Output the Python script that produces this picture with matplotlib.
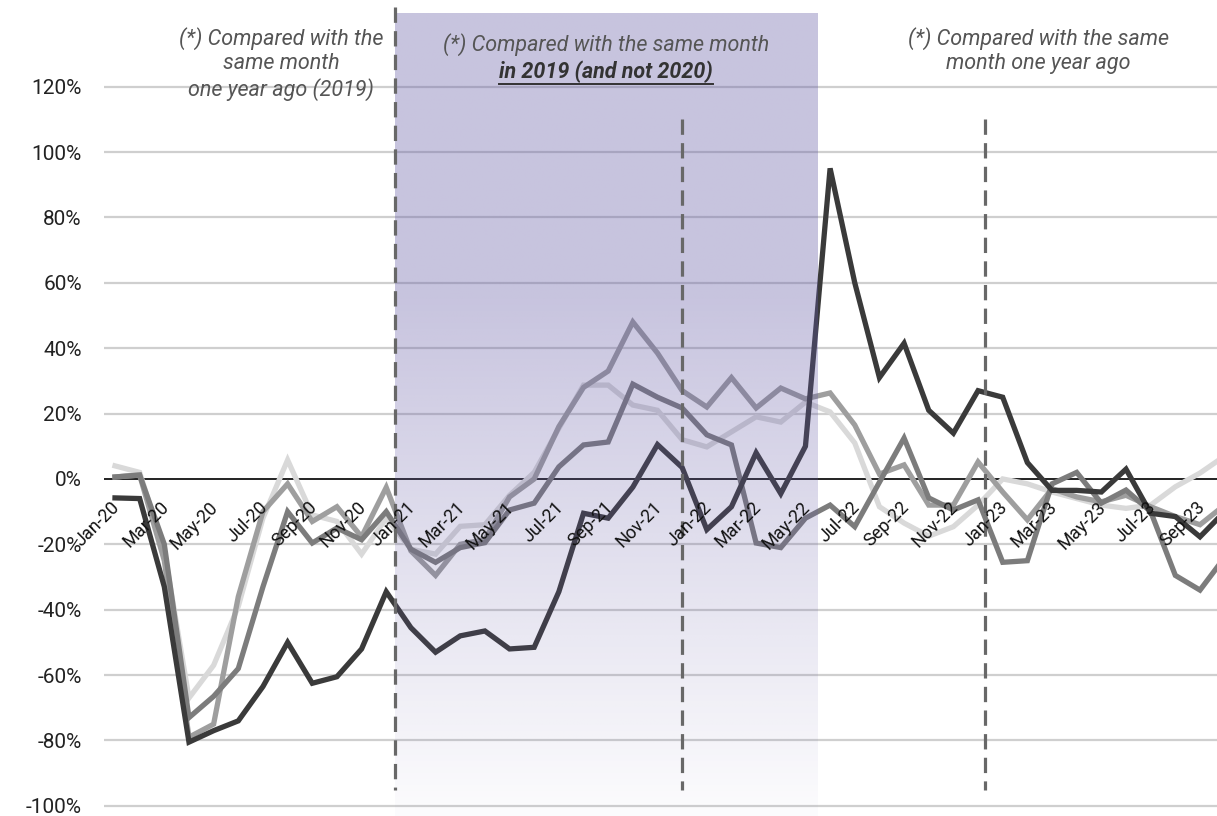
import matplotlib
matplotlib.use("Agg")
import matplotlib.pyplot as plt
import numpy as np
from matplotlib.lines import Line2D

months = ["Jan-20","Feb-20","Mar-20","Apr-20","May-20","Jun-20","Jul-20","Aug-20","Sep-20","Oct-20","Nov-20","Dec-20",
          "Jan-21","Feb-21","Mar-21","Apr-21","May-21","Jun-21","Jul-21","Aug-21","Sep-21","Oct-21","Nov-21","Dec-21",
          "Jan-22","Feb-22","Mar-22","Apr-22","May-22","Jun-22","Jul-22","Aug-22","Sep-22","Oct-22","Nov-22","Dec-22",
          "Jan-23","Feb-23","Mar-23","Apr-23","May-23","Jun-23","Jul-23","Aug-23","Sep-23","Oct-23"]

series_dark = [-5.8, -6, -33, -80.5, -77, -74, -63.5, -50, -62.5, -60.5, -52, -34.5,
               -45.5, -53, -48, -46.5, -52, -51.5, -34.5, -10.5, -12, -2.5, 10.5, 3.5,
               -15.5, -8.5, 8, -4.5, 10, 95, 60, 31, 41.5, 21, 14, 27,
               25, 5, -3.5, -3.5, -4, 3, -10.5, -11.5, -17.7, -10]
series_mid = [0.6, 1.2, -25, -79, -75, -36, -10, -1.5, -13, -8.5, -17.7, -2.6,
              -22, -29.5, -20, -18.5, -5.5, 0, 16, 28, 33, 48, 38.5, 27,
              22, 31, 21.7, 27.8, 24.5, 26.3, 16.5, 1.5, 4.3, -8, -8, 5.2,
              -4, -12.5, -3, -5.5, -7, -5, -8.5, -11.5, -14, -8]
series_middark = [0.6, 1.2, -20, -73, -66.5, -58, -33, -10, -19.6, -15, -18.6, -10,
                  -21.5, -25.5, -21, -19.5, -9.5, -7.4, 3.7, 10.4, 11.3, 29, 25, 21.7,
                  13.5, 10.4, -19.6, -21, -12, -8, -14.6, -1, 12.5, -5.8, -9.5, -6.4,
                  -25.5, -25, -1.5, 2, -7.4, -3.4, -10, -29.5, -34, -24]
series_light = [4, 2, -22, -67, -57, -39, -12, 5.8, -11, -13, -23, -12,
                -21.5, -23, -14.5, -14, -5, 2, 15.5, 28.7, 28.7, 22.6, 21, 12,
                9.8, 14.4, 19, 17.4, 23.5, 20.5, 11, -8.5, -13.5, -17.5, -14.6, -8,
                0, -1.5, -4, -6, -8, -9, -8, -2.4, 1.8, 7]

yticks = [-100, -80, -60, -40, -20, 0, 20, 40, 60, 80, 100, 120]

note_left = "(*) Compared with the\nsame month\none year ago (2019)"
note_mid_1 = "(*) Compared with the same month"
note_mid_2 = "in 2019 (and not 2020)"
note_right = "(*) Compared with the same\nmonth one year ago"

W, H = 1217, 816
fig = plt.figure(figsize=(W/100, H/100), dpi=100)
ax = fig.add_axes([104/W, 0, 1 - 104/W, 1])
x = np.arange(len(months))
ax.set_xlim(-0.446, 44.69)
ax.set_ylim(-103.1, 146.5)

for s in ax.spines.values():
    s.set_visible(False)
ax.set_xticks([])
ax.set_yticks(yticks)
ax.set_yticklabels([f"{v}%" for v in yticks], fontsize=15, family=["Roboto", "DejaVu Sans"], color="#222222")
ax.tick_params(axis="y", length=0, pad=16)
for v in yticks:
    if v != 0:
        ax.axhline(v, color="#cfcfcf", lw=1.6, zorder=1)
ax.axhline(0, color="#111111", lw=1.3, zorder=2)

lw = 3.8
ax.plot(x, series_light, color="#d9d9d9", lw=lw, zorder=3, solid_joinstyle="miter")
ax.plot(x, series_mid, color="#9e9e9e", lw=lw, zorder=4, solid_joinstyle="miter")
ax.plot(x, series_middark, color="#7c7c7c", lw=lw, zorder=5, solid_joinstyle="miter")
ax.plot(x, series_dark, color="#3a3a3a", lw=lw, zorder=6, solid_joinstyle="miter")

# shaded overlay with vertical gradient
x0, x1 = 11.35, 28.5
ytop, ybot = 142.5, -103.1
n = 256
fy = np.linspace(0, 1, n)  # 0 top -> 1 bottom
alpha = np.where(fy < 0.35, 0.36, 0.36 * (1 - (fy - 0.35) / 0.65) + 0.02 * ((fy - 0.35) / 0.65))
img = np.zeros((n, 2, 4))
img[..., 0] = 100/255
img[..., 1] = 90/255
img[..., 2] = 165/255
img[..., 3] = alpha[:, None]
ax.imshow(img, extent=[x0, x1, ybot, ytop], aspect="auto", zorder=7, interpolation="bilinear")

# dashed lines
dash = dict(color="#686868", lw=2.3, ls=(0, (4.8, 2.6)), zorder=8)
ax.plot([11.35, 11.35], [144.5, -95], **dash)
ax.plot([23.0, 23.0], [110, -95], **dash)
ax.plot([35.3, 35.3], [110, -95], **dash)

# x labels
for i in range(0, 45, 2):
    ax.text(i + 0.08, -7.8, months[i], rotation=45, ha="right", va="center",
            rotation_mode="anchor", fontsize=13, family=["Roboto", "DejaVu Sans"], color="#111111", zorder=9)

fam = ["Roboto", "DejaVu Sans"]
tf = dict(family=fam, style="italic", weight="normal", color="#555555", fontsize=15.5, zorder=10)
fig.text(281/W, 1 - 27/H, note_left, ha="center", va="top", linespacing=1.22, **tf)
fig.text(606/W, 1 - 33/H, note_mid_1, ha="center", va="top", **tf)
t2 = fig.text(606/W, 1 - 60/H, note_mid_2, ha="center", va="top", family=fam,
              style="italic", weight="bold", color="#333333", fontsize=15.5, zorder=10)
fig.text(1038/W, 1 - 27/H, note_right, ha="center", va="top", linespacing=1.22, **tf)

fig.canvas.draw()
bb = t2.get_window_extent(renderer=fig.canvas.get_renderer())
uy = (bb.y0 - 1) / H
fig.add_artist(Line2D([bb.x0 / W, bb.x1 / W], [uy, uy], color="#333333", lw=1.4, transform=fig.transFigure))

fig.savefig("out.png", dpi=100)
